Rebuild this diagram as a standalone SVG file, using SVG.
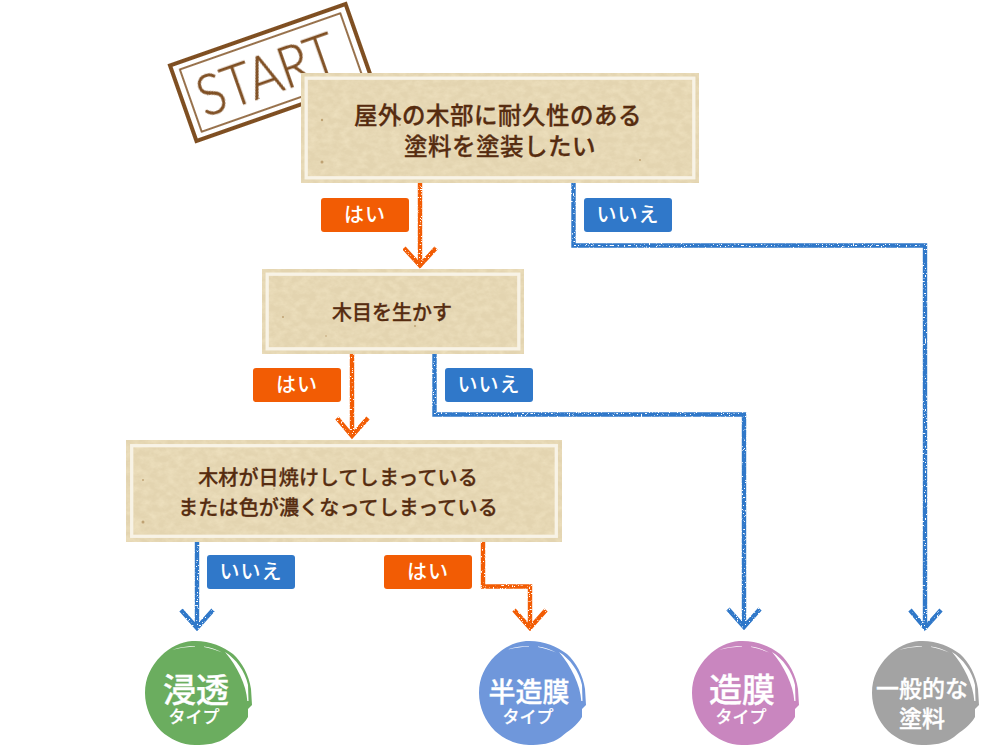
<svg xmlns="http://www.w3.org/2000/svg" width="1000" height="755" viewBox="0 0 1000 755">
  <style>
    text { font-family: "Noto Sans CJK JP", "Noto Sans", sans-serif; text-anchor: middle; }
    .q { fill: #562c10; font-weight: 500; stroke: #562c10; stroke-width: 0.300; }
    .tag { fill: #fff; font-size: 20px; font-weight: 500; letter-spacing: 1px; }
    .tag-bg { stroke: none; }
    .yes { fill: #f25c04; }
    .no { fill: #3078c9; }
    .line { fill: none; stroke-width: 4.400; stroke-linejoin: miter; }
    .line-yes { stroke: #f25c04; }
    .line-no { stroke: #3078c9; }
    .frame { fill: #e3d4b0; }
    .rim { fill: none; stroke: #f8f3e6; stroke-width: 3.300; }
    .big { fill: #fff; font-weight: 500; stroke: #fff; stroke-width: 0.350; }
    .small { fill: #fff; font-size: 17px; font-weight: 500; stroke: #fff; stroke-width: 0.200; }
    .speck { fill: #a57f4a; opacity: 0.6; }
  </style>
  <defs>
    <!-- Speckled chalk edge for the connectors and the stamp -->
    <filter id="chalk" filterUnits="userSpaceOnUse" x="0" y="0" width="1000" height="755" color-interpolation-filters="sRGB">
      <feTurbulence type="fractalNoise" baseFrequency="0.75" numOctaves="1" seed="11" result="n"/>
      <feColorMatrix in="n" type="matrix" values="0 0 0 0 0  0 0 0 0 0  0 0 0 0 0  14 0 0 0 -4.300" result="m"/>
      <feComposite in="SourceGraphic" in2="m" operator="in"/>
    </filter>
    <!-- Kraft paper mottling -->
    <filter id="paper" x="0" y="0" width="100%" height="100%" color-interpolation-filters="sRGB">
      <feTurbulence type="fractalNoise" baseFrequency="0.12 0.16" numOctaves="4" seed="7"/>
      <feColorMatrix type="matrix" values="0 0 0 0 0.95  0 0 0 0 0.90  0 0 0 0 0.77  1.200 0 0 0 -0.400"/>
    </filter>
    <filter id="stampRough" x="-5%" y="-5%" width="110%" height="110%">
      <feTurbulence type="fractalNoise" baseFrequency="0.5" numOctaves="2" seed="3"/>
      <feDisplacementMap in="SourceGraphic" scale="1.600" xChannelSelector="R" yChannelSelector="G"/>
    </filter>
    <path id="blob" d="M-6,-52 C10,-53 25,-47 35,-39 C44,-31 51,-18 53,-4 L54,12 L50,16 L50,24 C45,33 36,38 29,44 C20,51 8,52 -3,52 C-16,52 -28,46 -37,38 C-47,28 -53,14 -53,0 C-53,-15 -47,-27 -37,-37 C-28,-46 -17,-51 -6,-52 Z"/>
    <!-- Dry-brush gaps near the rim of each badge -->
    <g id="brushmarks" fill="#fff">
      <path d="M27,-41 C38,-34 47,-22 50,-8 L50.500,8 L49.300,8 C48.500,-8 39,-27 27,-41 Z"/>
      <path d="M-26,-43 C-18,-46 -10,-47 -3,-47 L-3,-46.400 C-10,-46 -18,-45 -26,-43 Z"/>
      <path d="M6,-46.500 C12,-45.500 18,-44 24,-40.500 C18,-43 12,-44.800 6,-46 Z"/>
    </g>
  </defs>

  <g id="start-stamp" transform="translate(271 72.500) rotate(-19.300)" filter="url(#stampRough)">
    <rect x="-93" y="-40" width="186" height="80" fill="none" stroke="#7f4f24" stroke-width="4"/>
    <rect x="-85" y="-33" width="170" height="66" fill="none" stroke="#7f4f24" stroke-width="1.600"/>
    <text transform="translate(-5 21) scale(0.87 1)" font-size="58" fill="#7f4f24" stroke="#7f4f24" stroke-width="0.700" style="font-family:'Lato','Liberation Sans',sans-serif;font-weight:300">START</text>
  </g>

  <g id="connectors">
    <g filter="url(#chalk)">
      <path class="line line-yes" d="M420,183 V266 M404,248 L420,265.500 L436,248"/>
      <path class="line line-no" d="M573.500,183 V245.500 H925 V628 M910,610 L925,628 L941,610"/>
      <path class="line line-yes" d="M352,353 V436 M337,418 L352,436 L368,418"/>
      <path class="line line-no" d="M434.500,353 V414.500 H744 V627 M728,609 L744,627 L760,609"/>
      <path class="line line-no" d="M197,542 V628 M181,610 L197,628 L213,610"/>
      <path class="line line-yes" d="M483,542 V586.500 H530 V628 M514,610 L530,628 L546,610"/>
    </g>
  </g>

  <g id="q-outdoor">
    <rect class="frame" x="301" y="73" width="398" height="110"/>
    <rect x="301" y="73" width="398" height="110" fill="#fff" filter="url(#paper)"/>
    <rect class="rim" x="306.200" y="78.200" width="387.600" height="99.600"/>
    <circle class="speck" cx="322" cy="120" r="1.200"/>
    <circle class="speck" cx="322" cy="162" r="1.500"/>
    <circle class="speck" cx="400" cy="125" r="1"/>
    <circle class="speck" cx="640" cy="160" r="1"/>
    <text class="q" x="498" y="124" font-size="23.500" letter-spacing="0.500">屋外の木部に耐久性のある</text>
    <text class="q" x="500" y="155" font-size="23.500" letter-spacing="0.500">塗料を塗装したい</text>
  </g>
  <g id="q-grain">
    <rect class="frame" x="262" y="269" width="262" height="85"/>
    <rect x="262" y="269" width="262" height="85" fill="#fff" filter="url(#paper)"/>
    <rect class="rim" x="267.200" y="274.200" width="251.600" height="74.600"/>
    <circle class="speck" cx="283" cy="317" r="1"/>
    <circle class="speck" cx="415" cy="326" r="1"/>
    <circle class="speck" cx="326" cy="336" r="0.800"/>
    <text class="q" x="392" y="320" font-size="20">木目を生かす</text>
  </g>
  <g id="q-faded">
    <rect class="frame" x="126" y="440" width="436" height="102"/>
    <rect x="126" y="440" width="436" height="102" fill="#fff" filter="url(#paper)"/>
    <rect class="rim" x="131.700" y="445.700" width="424.600" height="90.600"/>
    <circle class="speck" cx="143" cy="522" r="1.500"/>
    <circle class="speck" cx="143" cy="480" r="1"/>
    <circle class="speck" cx="274" cy="489" r="0.800"/>
    <text class="q" x="338" y="485" font-size="20" letter-spacing="0.150">木材が日焼けしてしまっている</text>
    <text class="q" x="338" y="515" font-size="20" letter-spacing="0.150">または色が濃くなってしまっている</text>
  </g>

  <g id="label-yes-1"><rect class="tag-bg yes" x="321" y="198" width="88" height="34" rx="3"/><text class="tag" x="365" y="222">はい</text></g>
  <g id="label-no-1"><rect class="tag-bg no" x="584" y="198" width="88" height="34" rx="3"/><text class="tag" x="628" y="222">いいえ</text></g>
  <g id="label-yes-2"><rect class="tag-bg yes" x="253" y="368" width="88" height="34" rx="3"/><text class="tag" x="297" y="392">はい</text></g>
  <g id="label-no-2"><rect class="tag-bg no" x="445" y="368" width="88" height="34" rx="3"/><text class="tag" x="489" y="392">いいえ</text></g>
  <g id="label-no-3"><rect class="tag-bg no" x="207" y="555" width="88" height="34" rx="3"/><text class="tag" x="251" y="579">いいえ</text></g>
  <g id="label-yes-3"><rect class="tag-bg yes" x="384" y="555" width="88" height="34" rx="3"/><text class="tag" x="428" y="579">はい</text></g>

  <g id="type-penetrating">
    <use href="#blob" x="198" y="693" fill="#6bad5f"/>
    <use href="#brushmarks" x="198" y="693"/>
    <text class="big" x="196" y="702" font-size="33">浸透</text>
    <text class="small" x="194" y="723">タイプ</text>
  </g>
  <g id="type-semi">
    <use href="#blob" x="532" y="693" fill="#6f97db"/>
    <use href="#brushmarks" x="532" y="693"/>
    <text class="big" x="529" y="702" font-size="27">半造膜</text>
    <text class="small" x="528" y="723">タイプ</text>
  </g>
  <g id="type-film">
    <use href="#blob" x="745" y="693" fill="#c986bf"/>
    <use href="#brushmarks" x="745" y="693"/>
    <text class="big" x="742" y="702" font-size="33">造膜</text>
    <text class="small" x="741" y="723">タイプ</text>
  </g>
  <g id="type-general">
    <use href="#blob" x="925" y="693" fill="#a3a3a3"/>
    <use href="#brushmarks" x="925" y="693"/>
    <text class="big" x="922" y="697" font-size="23">一般的な</text>
    <text class="big" x="922" y="727" font-size="23">塗料</text>
  </g>
</svg>
